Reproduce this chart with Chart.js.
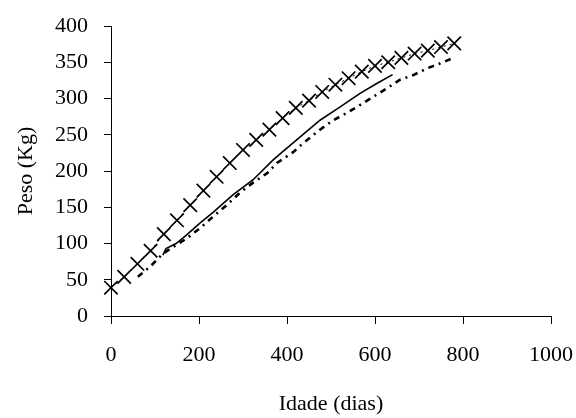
<!DOCTYPE html>
<html>
<head>
<meta charset="utf-8">
<script src="https://cdn.jsdelivr.net/npm/chart.js@4.4.1/dist/chart.umd.min.js"></script>
<style>
html,body{margin:0;padding:0;background:#fff;}
#wrap{width:576px;height:418px;position:relative;}
</style>
</head>
<body>
<div id="wrap"><canvas id="c" width="576" height="418"></canvas></div>
<script>
// Tick labels
const xTicks = [0, 200, 400, 600, 800, 1000];
const yTicks = [0, 50, 100, 150, 200, 250, 300, 350, 400];

// Series with X markers (age in days / weight in kg)
const crossDays = [0, 30, 60, 90, 120, 150, 180, 210, 240, 270, 300, 330, 360, 390, 420, 450, 480, 510, 540, 570, 600, 630, 660, 690, 720, 750, 780];
const crossWeight = [39, 54, 72, 90, 113, 132, 153, 173, 192, 211, 229, 243, 257, 273, 287, 297, 309, 319, 328, 337, 345, 350, 356, 362, 366, 371, 376];

// Solid line series
const solidDays = [118, 125, 148, 172, 202, 232, 277, 323, 368, 389, 430, 475, 520, 566, 605, 640];
const solidWeight = [84, 93, 100, 112, 128, 143, 167, 188, 215, 226, 247, 270, 288, 307, 321, 333];

// Dashed line series
const dashDays = [61, 89, 118, 141, 172, 202, 232, 263, 293, 323, 355, 377, 414, 436, 475, 505, 536, 566, 595, 627, 657, 686, 720, 755, 782];
const dashWeight = [54, 68, 86, 95, 107, 121, 137, 153, 170, 184, 197, 211, 226, 238, 257, 270, 280, 291, 302, 314, 326, 332, 342, 350, 357];

const toPts = (xs, ys) => xs.map((x, i) => ({x: x, y: ys[i]}));

const FONT = {family: '"Liberation Serif", "Times New Roman", serif', size: 22};

new Chart(document.getElementById('c'), {
  type: 'scatter',
  data: {
    datasets: [
      {
        data: toPts(crossDays, crossWeight),
        showLine: true,
        borderColor: '#000',
        borderWidth: 1,
        borderDash: [2, 4],
        pointStyle: 'crossRot',
        pointRadius: 9.5,
        pointBorderWidth: 1.7,
        pointBorderColor: '#000',
        pointBackgroundColor: '#000',
        clip: false
      },
      {
        data: toPts(solidDays, solidWeight),
        showLine: true,
        borderColor: '#000',
        borderWidth: 1.6,
        pointRadius: 0,
        tension: 0
      },
      {
        data: toPts(dashDays, dashWeight),
        showLine: true,
        borderColor: '#000',
        borderWidth: 2.6,
        borderDash: [6, 5, 2, 5],
        pointRadius: 0,
        tension: 0
      }
    ]
  },
  options: {
    responsive: false,
    animation: false,
    layout: {padding: {left: 0, right: 25, top: 26, bottom: 0}},
    plugins: {legend: {display: false}, tooltip: {enabled: false}},
    scales: {
      x: {
        type: 'linear',
        min: 0, max: 1000,
        afterBuildTicks: (s) => { s.ticks = xTicks.map(v => ({value: v})); },
        afterFit: (s) => { s.height = 102; s.paddingRight = 0; s.paddingLeft = 0; },
        grid: {drawOnChartArea: false, drawTicks: true, tickLength: 8, color: '#000', lineWidth: 1},
        border: {display: true, color: '#000', width: 1},
        ticks: {color: '#000', font: FONT, padding: 18, maxRotation: 0, autoSkip: false,
                callback: (v) => String(v)},
        title: {display: true, text: 'Idade (dias)', color: '#000', font: FONT, padding: {top: 0, bottom: 1}}
      },
      y: {
        type: 'linear',
        min: 0, max: 400,
        afterBuildTicks: (s) => { s.ticks = yTicks.map(v => ({value: v})); },
        afterFit: (s) => { s.width = 111; s.paddingTop = 0; s.paddingBottom = 0; },
        grid: {drawOnChartArea: false, drawTicks: true, tickLength: 7, color: '#000', lineWidth: 1},
        border: {display: true, color: '#000', width: 1},
        ticks: {color: '#000', font: FONT, padding: 16, autoSkip: false,
                callback: (v) => String(v)},
        title: {display: true, text: 'Peso (Kg)', color: '#000', font: FONT, padding: {top: 13, bottom: 0}}
      }
    }
  }
});
</script>
</body>
</html>
